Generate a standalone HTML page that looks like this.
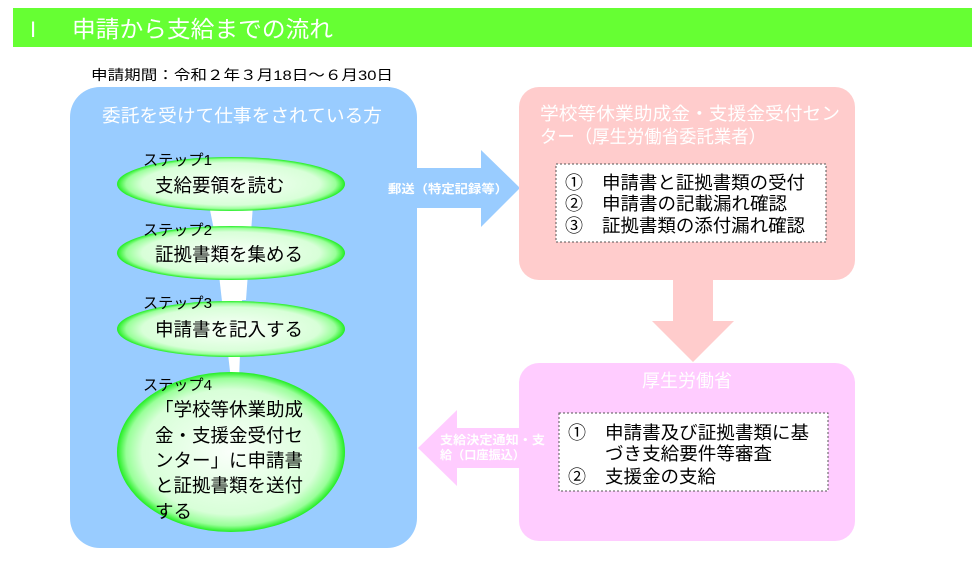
<!DOCTYPE html>
<html><head><meta charset="utf-8"><style>
body{margin:0;background:#fff;}
svg text{font-family:"Liberation Sans","Noto Sans CJK JP",sans-serif;}
</style></head><body>
<svg width="980" height="581" viewBox="0 0 980 581" xmlns="http://www.w3.org/2000/svg">
<defs>
<radialGradient id="g" cx="50%" cy="50%" r="50%">
<stop offset="0" stop-color="#fafffa"/><stop offset="0.78" stop-color="#d8ffd8"/><stop offset="0.92" stop-color="#99ff99"/><stop offset="1" stop-color="#22ee22"/>
</radialGradient>
</defs>
<rect x="13" y="8" width="959" height="39" fill="#66ff33"/>
<text x="30" y="37" font-size="22" fill="#fff" font-family="Liberation Serif">I</text>
<text x="72" y="37" font-size="23" fill="#fff" textLength="261" lengthAdjust="spacingAndGlyphs">申請から支給までの流れ</text>
<text x="91" y="80" font-size="14" fill="#000" textLength="302" lengthAdjust="spacingAndGlyphs">申請期間：令和２年３月18日～６月30日</text>

<rect x="70" y="87" width="347" height="461" rx="30" fill="#99ccff"/>
<text x="102" y="122" font-size="18" fill="#fff" textLength="280" lengthAdjust="spacingAndGlyphs">委託を受けて仕事をされている方</text>

<polygon points="209,205 253,205 246,300 228,300" fill="#fff"/>
<polygon points="219,275 243,275 239,380 231,380" fill="#fff"/>

<ellipse cx="231" cy="184" rx="114" ry="27" fill="url(#g)"/>
<ellipse cx="231" cy="253" rx="114" ry="27" fill="url(#g)"/>
<ellipse cx="231" cy="329" rx="114" ry="28" fill="url(#g)"/>
<ellipse cx="231" cy="452" rx="114" ry="80" fill="url(#g)"/>

<g font-size="15" fill="#000">
<text x="143" y="165" textLength="69" lengthAdjust="spacingAndGlyphs">ステップ1</text>
<text x="143" y="235" textLength="69" lengthAdjust="spacingAndGlyphs">ステップ2</text>
<text x="143" y="308" textLength="69" lengthAdjust="spacingAndGlyphs">ステップ3</text>
<text x="143" y="390" textLength="69" lengthAdjust="spacingAndGlyphs">ステップ4</text>
</g>
<g font-size="18.5" fill="#000">
<text x="155" y="192">支給要領を読む</text>
<text x="155" y="261">証拠書類を集める</text>
<text x="155" y="336">申請書を記入する</text>
<text x="155" y="416">「学校等休業助成</text>
<text x="155" y="442">金・支援金受付セ</text>
<text x="155" y="467">ンター」に申請書</text>
<text x="155" y="492">と証拠書類を送付</text>
<text x="155" y="518">する</text>
</g>

<polygon points="417,168 481,168 481,150 520,188 481,227 481,208 417,208" fill="#99ccff"/>
<text x="388" y="193" font-size="12" fill="#fff" font-weight="bold" textLength="120" lengthAdjust="spacingAndGlyphs">郵送（特定記録等）</text>

<rect x="519" y="87" width="336" height="193" rx="20" fill="#ffcccc"/>
<text x="540" y="120" font-size="18" fill="#fff" textLength="300" lengthAdjust="spacingAndGlyphs">学校等休業助成金・支援金受付セン</text>
<text x="540" y="143" font-size="18" fill="#fff" textLength="226" lengthAdjust="spacingAndGlyphs">ター（厚生労働省委託業者）</text>
<rect x="556" y="164" width="270" height="78" fill="#fff" stroke="#555" stroke-dasharray="2,2"/>
<g font-size="18" fill="#000">
<text x="565" y="189">①</text><text x="602" y="189" textLength="203" lengthAdjust="spacingAndGlyphs">申請書と証拠書類の受付</text>
<text x="565" y="210">②</text><text x="602" y="210" textLength="185" lengthAdjust="spacingAndGlyphs">申請書の記載漏れ確認</text>
<text x="565" y="232">③</text><text x="602" y="232" textLength="203" lengthAdjust="spacingAndGlyphs">証拠書類の添付漏れ確認</text>
</g>

<polygon points="673,280 713,280 713,321 734,321 693,362 652,321 673,321" fill="#ffcccc"/>

<rect x="519" y="363" width="336" height="178" rx="20" fill="#ffccff"/>
<text x="687" y="387" font-size="18" fill="#fff" text-anchor="middle">厚生労働省</text>
<rect x="559" y="413" width="269" height="78" fill="#fff" stroke="#555" stroke-dasharray="2,2"/>
<g font-size="18" fill="#000">
<text x="568" y="439">①</text><text x="605" y="439" textLength="204" lengthAdjust="spacingAndGlyphs">申請書及び証拠書類に基</text>
<text x="605" y="460" textLength="167" lengthAdjust="spacingAndGlyphs">づき支給要件等審査</text>
<text x="568" y="483">②</text><text x="605" y="483" textLength="111" lengthAdjust="spacingAndGlyphs">支援金の支給</text>
</g>

<polygon points="520,428 457,428 457,410 418,448 457,486 457,468 520,468" fill="#ffccff"/>
<text x="440" y="444" font-size="12" fill="#fff" font-weight="bold" textLength="105" lengthAdjust="spacingAndGlyphs">支給決定通知・支</text>
<text x="440" y="459" font-size="12" fill="#fff" font-weight="bold" textLength="85" lengthAdjust="spacingAndGlyphs">給（口座振込）</text>
</svg>
</body></html>
